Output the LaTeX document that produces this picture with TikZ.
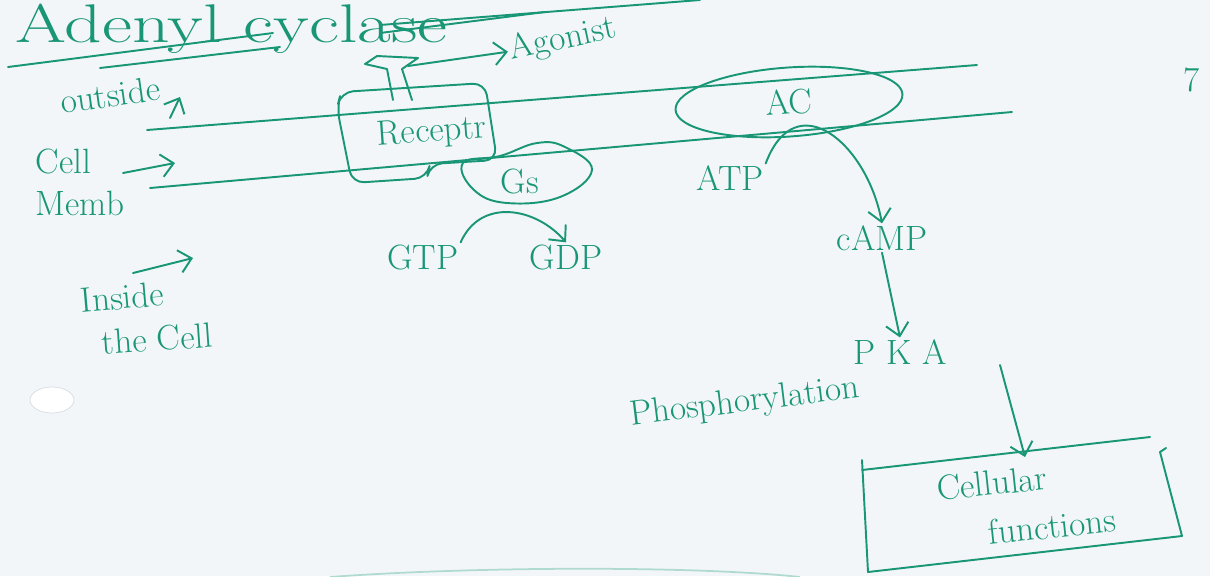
\documentclass[tikz,border=0pt]{standalone}
\usepackage{tikz}
\usetikzlibrary{
  arrows.meta,
  positioning,
  shapes.geometric,
  calc
}
\definecolor{ink}{RGB}{24,150,118}
\definecolor{paper}{RGB}{243,246,249}
\definecolor{faint}{RGB}{214,220,226}

\begin{document}
\begin{tikzpicture}[x=0.02cm, y=-0.02cm,
            pen/.style={draw=ink, line width=1.1pt, line cap=round, line join=round},
            arr/.style={pen, -{Straight Barb[length=7pt, width=13pt]}},
            hand/.style={text=ink, font=\fontsize{20}{24}\selectfont, inner sep=1pt},
            title/.style={text=ink, font=\fontsize{31}{33}\selectfont, inner sep=0pt, xscale=1.35}]
            \useasboundingbox (0,0) rectangle (1210,576);
            \fill[paper] (0,0) rectangle (1210,576);
            \clip (0,0) rectangle (1210,576);

            % heading
            \node [title, anchor=base west] (heading) at (15,42) {Adenyl cyclase};
            \draw [pen] (8,67) -- (273,33);
            \draw [pen] (100,68) -- (280,47);
            \draw [pen] (380,33) -- (545,12);
            \draw [pen] (380,25) -- (700,0);

            % membrane
            \draw [pen] (147,130) -- (977,65);
            \draw [pen] (150,188) -- (1012,112);

            % side labels
            \node [hand, rotate=8] (outside) at (110,95) {outside};
            \coordinate (upfrom) at (170,118);
            \coordinate (upto) at (180,97);
            \draw [arr] (upfrom) -- (upto);
            \node [hand, align=left] (cellmemb) at (80,182) {Cell\\Memb};
            \coordinate (membfrom) at (123,173);
            \coordinate (membto) at (175,163);
            \draw [arr] (membfrom) -- (membto);
            \node [hand, inner sep=0pt, rotate=5] (inside) at (122,297) {Inside};
            \node [hand, inner sep=0pt, rotate=4] (thecell) at (157,339) {the Cell};
            \coordinate (insfrom) at (133,273);
            \coordinate (insto) at (193,258);
            \draw [arr] (insfrom) -- (insto);

            % receptor with agonist
            \draw [pen, rounded corners=7pt] (337,108) -- (341,92) -- (485,83) -- (497,160) -- (430,164) -- (427,178) -- (352,183) -- cycle;
            \node [hand, rotate=4] (receptor) at (432,133) {Receptr};
            \draw [pen] (393,100) -- (387,69) -- (365,64) -- (377,56) -- (418,58) -- (402,69) -- (412,100);
            \node [hand, rotate=12] (agonist) at (563,40) {Agonist};
            \draw [arr] (408,66) -- (agonist.west);

            % Gs protein
            \draw [pen] plot [smooth cycle, tension=0.7] coordinates {(463,163) (500,156) (537,143) (565,147) (592,170) (560,197) (507,203) (474,190)};
            \node [hand] (gs) at (520,181) {Gs};
            \node [hand] (gtp) at (423,257) {GTP};
            \node [hand] (gdp) at (566,257) {GDP};
            \draw [arr] (gtp.north east) .. controls +(20,-45) and +(-30,-35) .. (gdp.north);

            % adenylyl cyclase
            \node [hand, draw=ink, line width=1.1pt, ellipse, minimum width=4.55cm, minimum height=1.38cm, rotate=4] (ac) at (789,102) {AC};
            \node [hand] (atp) at (730,178) {ATP};
            \node [hand] (camp) at (882,238) {cAMP};
            \draw [arr] (atp.north east) .. controls +(30,-80) and +(-15,-80) .. (camp.north);
            \node [hand] (pka) at (900,352) {P K A};
            \draw [arr] (camp.south) -- (pka.north);
            \node [hand, rotate=7] (phos) at (745,403) {Phosphorylation};

            % cellular functions
            \draw [pen] (862,460) -- (868,572) -- (1182,536) -- (1160,452) -- (1166,448);
            \draw [pen] (862,470) -- (1150,437);
            \node [hand, inner sep=0pt, rotate=6] (cellfn) at (992,483) {Cellular};
            \node [hand, inner sep=0pt, rotate=6] (cellfn2) at (1052,526) {functions};
            \coordinate (pkaout) at (1000,365);
            \coordinate (fnin) at (1025,457);
            \draw [arr] (pkaout) -- (fnin);

            % stray marks on the page
            \node [hand] (seven) at (1192,80) {7};
            \draw [faint, fill=white] (52,400) ellipse [x radius=22, y radius=13];
            \draw [ink!35, line width=1pt] (330,577) .. controls (480,566) and (700,566) .. (800,577);
        \end{tikzpicture}
\end{document}
